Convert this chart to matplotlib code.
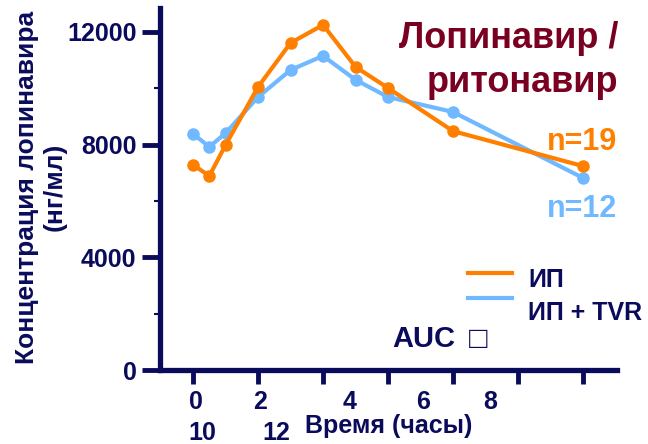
import numpy as np
import matplotlib.pyplot as plt
from matplotlib.lines import Line2D

plt.rcParams['font.family'] = ['Liberation Sans', 'DejaVu Sans']
plt.rcParams['font.weight'] = 'bold'

# время (часы)
hours = [0, 0.5, 1, 2, 3, 4, 5, 6, 8, 12]
# концентрация лопинавира, нг/мл
ip = [7280, 6890, 7990, 10050, 11610, 12250, 10760, 10010, 8480, 7240]
ip_tvr = [8380, 7920, 8410, 9690, 10650, 11150, 10300, 9690, 9160, 6820]

xtick_pos = [0, 2, 4, 6, 8, 10, 12]
ytick_pos = [0, 4000, 8000, 12000]
# подписи оси X съехали в оригинале: (текст, x px, базовая линия px)
xlabels_shifted = [('0', 196, 409), ('2', 260, 409), ('4', 350, 409),
                   ('6', 423, 409), ('8', 490, 409),
                   ('10', 202, 440), ('12', 276, 440)]

navy = '#0b0b5c'
darkred = '#7a0021'
orange = '#ff8000'
blue = '#70b8ff'
W, H = 648, 444


def px(x, y):
    return x / W, 1 - y / H


fig = plt.figure(figsize=(W / 100, H / 100), dpi=100)
ax = fig.add_axes([160 / W, 1 - 370 / H, (617 - 160) / W, (370 - 8) / H])

ax.plot(hours, ip_tvr, '-o', color=blue, lw=3.0, ms=8, zorder=3)
ax.plot(hours, ip, '-o', color=orange, lw=3.0, ms=8, zorder=4)

ax.set_xlim(-1.02, 13.05)
ax.set_ylim(0, 12850)

for s in ['top', 'right']:
    ax.spines[s].set_visible(False)
for s in ['left', 'bottom']:
    ax.spines[s].set_linewidth(3.8)
    ax.spines[s].set_color(navy)

ax.set_xticks(xtick_pos)
ax.set_xticklabels([])
ax.set_yticks(ytick_pos)
ax.set_yticks([2000, 6000, 10000], minor=True)
ax.tick_params(axis='x', length=10, width=3.5, color=navy)
ax.tick_params(axis='y', which='major', length=13, width=3.5, color=navy,
               labelsize=18, labelcolor=navy, pad=4)
ax.tick_params(axis='y', which='minor', length=4, width=1.5, color=navy)

for txt, x, y in xlabels_shifted:
    fig.text(*px(x, y), txt, ha='center', va='baseline',
             fontsize=18, color=navy)

fig.text(*px(389, 433), 'Время (часы)', ha='center', va='baseline',
         fontsize=18, color=navy)
fig.text(*px(41, 187), 'Концентрация лопинавира\n(нг/мл)', rotation=90,
         ha='center', va='center', fontsize=19, color=navy, linespacing=1.2)

fig.text(*px(618, 48), 'Лопинавир /', ha='right', va='baseline',
         fontsize=26, color=darkred)
fig.text(*px(618, 92), 'ритонавир', ha='right', va='baseline',
         fontsize=26, color=darkred)
fig.text(*px(617, 150), 'n=19', ha='right', va='baseline',
         fontsize=22, color=orange)
fig.text(*px(617, 217), 'n=12', ha='right', va='baseline',
         fontsize=22, color=blue)
fig.text(*px(392, 347), 'AUC', ha='left', va='baseline',
         fontsize=21, color=navy)
fig.text(*px(469, 348), '\u25a1', ha='left', va='baseline',
         fontsize=22, color=navy, fontweight='normal')

# легенда: линии и подписи в оригинале смещены друг относительно друга
handles = [Line2D([], [], color=orange, lw=3.0), Line2D([], [], color=blue, lw=3.0)]
ax.legend(handles, ['', ''], loc='upper left', bbox_to_anchor=px(468, 266),
          bbox_transform=fig.transFigure, frameon=False, fontsize=13,
          handlelength=2.45, handletextpad=0, labelspacing=0.45,
          borderaxespad=0, borderpad=0)
fig.text(*px(528, 287), 'ИП', ha='left', va='baseline', fontsize=18, color=navy)
fig.text(*px(528, 320), 'ИП + TVR', ha='left', va='baseline', fontsize=18, color=navy)

fig.savefig('out.png', dpi=100)
